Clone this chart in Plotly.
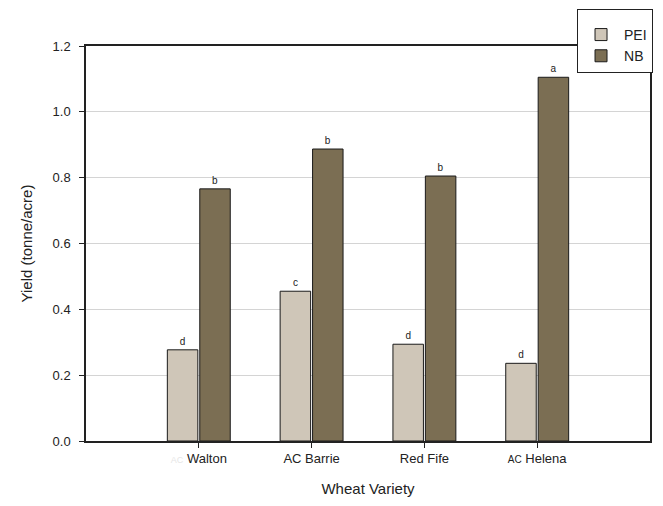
import plotly.graph_objects as go

categories = ["<span style='color:#e6e6e6;font-size:9px'>AC</span> Walton", "AC Barrie", "Red Fife",
              "<span style='font-size:10px'>AC</span> Helena"]
pei_values = [0.277, 0.455, 0.294, 0.236]
nb_values = [0.766, 0.887, 0.805, 1.105]
pei_letters = ["d", "c", "d", "d"]
nb_letters = ["b", "b", "b", "a"]
y_ticks = [0.0, 0.2, 0.4, 0.6, 0.8, 1.0, 1.2]

font = "Liberation Sans, Arial, sans-serif"

fig = go.Figure()
fig.add_trace(go.Bar(name="PEI", x=categories, y=pei_values, text=pei_letters,
                     textposition="outside", textfont=dict(size=10, color="#222", family=font),
                     marker=dict(color="#CFC6B8", line=dict(color="#1a1a1a", width=1)),
                     cliponaxis=False))
fig.add_trace(go.Bar(name="NB", x=categories, y=nb_values, text=nb_letters,
                     textposition="outside", textfont=dict(size=10, color="#222", family=font),
                     marker=dict(color="#7B6E53", line=dict(color="#1a1a1a", width=1)),
                     cliponaxis=False))

fig.update_layout(
    width=655, height=498,
    margin=dict(l=78, r=13, t=38, b=65, autoexpand=False),
    paper_bgcolor="white", plot_bgcolor="white",
    barmode="group", bargap=0.425, bargroupgap=0.06,
    font=dict(family=font, size=13, color="#222"),
    showlegend=True,
    legend=dict(x=0.8706, y=1.094, xanchor="left", yanchor="top",
                bgcolor="white", bordercolor="#222", borderwidth=1,
                font=dict(size=14), itemwidth=36, tracegroupgap=4,
                entrywidth=72, traceorder="normal",
                title=dict(text=" ", font=dict(size=7))),
    xaxis=dict(range=[-1, 4], showline=True, linecolor="#222", linewidth=1.5, mirror=True,
               ticks="outside", ticklen=5, tickcolor="#222",
               title=dict(text="Wheat Variety", font=dict(size=15), standoff=18),
               tickfont=dict(size=13)),
    yaxis=dict(range=[0, 1.2], tickvals=y_ticks, tickformat=".1f",
               showline=True, linecolor="#222", linewidth=1.5, mirror=True,
               ticks="outside", ticklen=5, tickcolor="#222", ticklabelstandoff=6,
               showgrid=True, gridcolor="#d4d4d4", gridwidth=1, zeroline=False,
               title=dict(text="Yield (tonne/acre)", font=dict(size=15), standoff=16),
               tickfont=dict(size=13)),
)

fig.write_html("out.html")
